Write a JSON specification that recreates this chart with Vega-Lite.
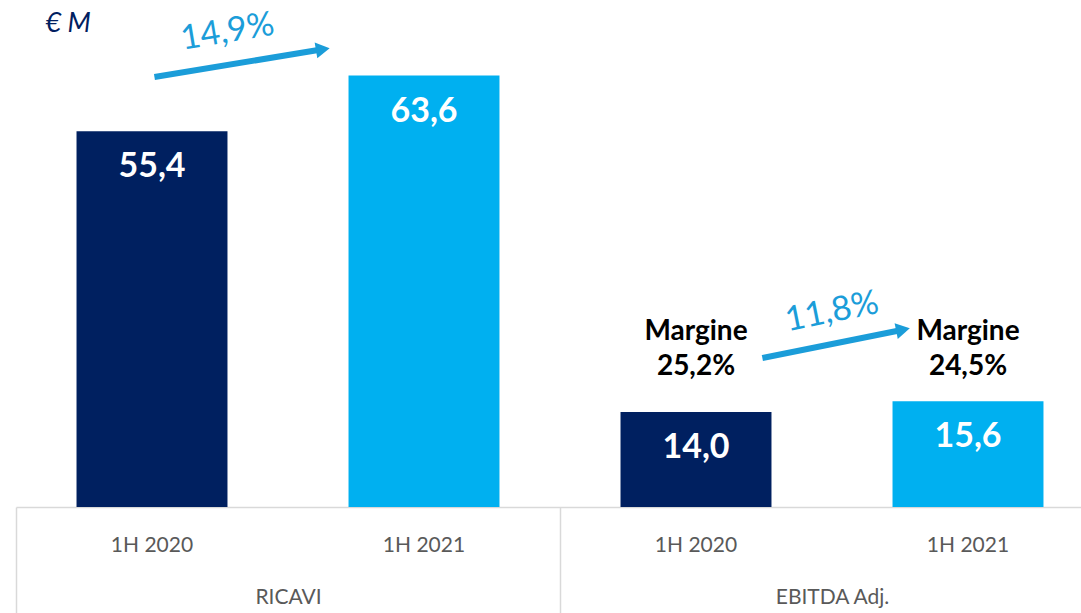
{
  "$schema": "https://vega.github.io/schema/vega-lite/v6.json",
  "width": 1065,
  "height": 502,
  "autosize": "none",
  "padding": {"left": 16, "top": 5, "right": 0, "bottom": 106},
  "background": "white",
  "config": {
    "view": {"stroke": null},
    "font": "Lato",
    "locale": {"number": {"decimal": ",", "thousands": ".", "grouping": [3], "currency": ["€ ", ""]}}
  },
  "datasets": {
    "valori": [
      {"voce": "RICAVI|1H 2020", "gruppo": "RICAVI", "periodo": "1H 2020", "valore": 55.4},
      {"voce": "RICAVI|1H 2021", "gruppo": "RICAVI", "periodo": "1H 2021", "valore": 63.6},
      {"voce": "EBITDA Adj.|1H 2020", "gruppo": "EBITDA Adj.", "periodo": "1H 2020", "valore": 14.0, "margine": 0.252},
      {"voce": "EBITDA Adj.|1H 2021", "gruppo": "EBITDA Adj.", "periodo": "1H 2021", "valore": 15.6, "margine": 0.245}
    ],
    "frecce": [
      {"gruppo": "RICAVI", "x": 0.509, "y": 63.38, "x2": 1.128, "y2": 67.47, "tx": 0.778, "ty": 70.0, "crescita": 0.149},
      {"gruppo": "EBITDA Adj.", "x": 2.744, "y": 21.96, "x2": 3.261, "y2": 26.13, "tx": 3.0, "ty": 28.74, "crescita": 0.118}
    ]
  },
  "resolve": {"scale": {"x": "independent"}, "axis": {"x": "independent"}},
  "layer": [
    {
      "data": {"name": "valori"},
      "encoding": {
        "x": {
          "field": "voce", "type": "nominal", "sort": null,
          "scale": {"range": [0, 1088], "paddingInner": 0, "paddingOuter": 0},
          "axis": {
            "orient": "bottom", "title": null, "domain": false, "ticks": false,
            "labelExpr": "split(datum.label, '|')[1]",
            "labelPadding": 38, "labelBaseline": "middle", "labelAngle": 0,
            "labelFont": "Lato", "labelFontSize": 21, "labelColor": "#595959"
          }
        },
        "y": {
          "field": "valore", "type": "quantitative",
          "scale": {"domain": [0, 74], "nice": false, "zero": true},
          "axis": {
            "title": "€ M", "titleAngle": 0, "titleAlign": "left", "titleBaseline": "middle",
            "titleX": 29, "titleY": 18, "titleFont": "Lato", "titleFontStyle": "italic",
            "titleFontWeight": "normal", "titleFontSize": 27, "titleColor": "#002060",
            "labels": false, "ticks": false, "domain": false, "grid": false
          }
        }
      },
      "layer": [
        {
          "mark": {"type": "bar", "width": {"band": 0.555}},
          "encoding": {
            "color": {
              "field": "periodo", "type": "nominal",
              "scale": {"domain": ["1H 2020", "1H 2021"], "range": ["#002060", "#00B0F0"]},
              "legend": null
            }
          }
        },
        {
          "mark": {"type": "text", "dy": 36, "baseline": "middle", "align": "center", "fontSize": 34, "fontWeight": "bold", "color": "white", "font": "Lato"},
          "encoding": {"text": {"field": "valore", "type": "quantitative", "format": ".1f"}}
        },
        {
          "transform": [{"filter": "isValid(datum.margine)"}],
          "mark": {"type": "text", "baseline": "alphabetic", "align": "center", "dy": -35, "fontSize": 28, "fontWeight": "bold", "color": "black", "font": "Lato"},
          "encoding": {
            "y": {"datum": 19.46, "type": "quantitative"},
            "text": {"value": "Margine"}
          }
        },
        {
          "transform": [{"filter": "isValid(datum.margine)"}],
          "mark": {"type": "text", "baseline": "alphabetic", "align": "center", "fontSize": 28, "fontWeight": "bold", "color": "black", "font": "Lato"},
          "encoding": {
            "y": {"datum": 19.46, "type": "quantitative"},
            "text": {"field": "margine", "type": "quantitative", "format": ".1%"}
          }
        }
      ]
    },
    {
      "data": {"name": "valori"},
      "mark": {"type": "point", "opacity": 0},
      "encoding": {
        "x": {
          "field": "gruppo", "type": "nominal", "sort": ["RICAVI", "EBITDA Adj."],
          "scale": {"range": [0, 1088], "paddingInner": 0, "paddingOuter": 0},
          "axis": {
            "orient": "bottom", "title": null,
            "domain": true, "domainColor": "#D9D9D9", "domainWidth": 1.5,
            "ticks": true, "tickBand": "extent", "tickColor": "#D9D9D9", "tickWidth": 1.5, "tickSize": 106,
            "labelPadding": -16, "labelBaseline": "middle", "labelAngle": 0,
            "labelFont": "Lato", "labelFontSize": 21, "labelColor": "#595959"
          }
        },
        "y": {"field": "valore", "type": "quantitative", "scale": {"domain": [0, 74], "nice": false}}
      }
    },
    {
      "data": {"name": "frecce"},
      "encoding": {
        "x": {"field": "x", "type": "quantitative", "scale": {"domain": [0, 4], "range": [0, 1088], "nice": false, "zero": false}, "axis": null},
        "y": {"field": "y", "type": "quantitative", "scale": {"domain": [0, 74], "nice": false}}
      },
      "layer": [
        {
          "mark": {"type": "rule", "strokeWidth": 6, "color": "#1B9DD9"},
          "encoding": {"x2": {"field": "x2"}, "y2": {"field": "y2"}}
        },
        {
          "transform": [{"filter": "datum.gruppo === 'RICAVI'"}],
          "mark": {"type": "point", "shape": "triangle-right", "filled": true, "size": 256, "angle": 350.6, "color": "#1B9DD9", "opacity": 1},
          "encoding": {"x": {"field": "x2", "type": "quantitative"}, "y": {"field": "y2", "type": "quantitative"}}
        },
        {
          "transform": [{"filter": "datum.gruppo === 'EBITDA Adj.'"}],
          "mark": {"type": "point", "shape": "triangle-right", "filled": true, "size": 256, "angle": 348.6, "color": "#1B9DD9", "opacity": 1},
          "encoding": {"x": {"field": "x2", "type": "quantitative"}, "y": {"field": "y2", "type": "quantitative"}}
        },
        {
          "transform": [{"filter": "datum.gruppo === 'RICAVI'"}],
          "mark": {"type": "text", "angle": 350.6, "align": "center", "baseline": "middle", "fontSize": 34, "color": "#1B9DD9", "font": "Lato"},
          "encoding": {"x": {"field": "tx", "type": "quantitative"}, "y": {"field": "ty", "type": "quantitative"}, "text": {"field": "crescita", "type": "quantitative", "format": ".1%"}}
        },
        {
          "transform": [{"filter": "datum.gruppo === 'EBITDA Adj.'"}],
          "mark": {"type": "text", "angle": 348.6, "align": "center", "baseline": "middle", "fontSize": 34, "color": "#1B9DD9", "font": "Lato"},
          "encoding": {"x": {"field": "tx", "type": "quantitative"}, "y": {"field": "ty", "type": "quantitative"}, "text": {"field": "crescita", "type": "quantitative", "format": ".1%"}}
        }
      ]
    }
  ]
}
